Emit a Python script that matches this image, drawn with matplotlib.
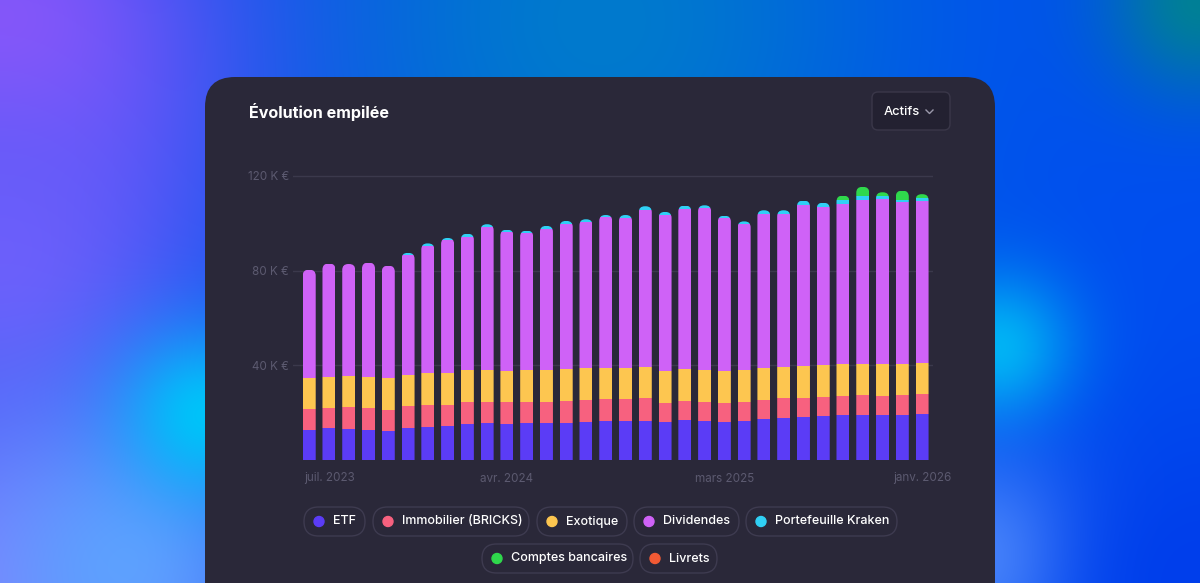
import numpy as np
import matplotlib.pyplot as plt
from matplotlib.patches import FancyBboxPatch, Circle

# DATA (K €, height of each stacked segment)
months = ["juin 2023", "juil. 2023", "août 2023", "sept. 2023", "oct. 2023", "nov. 2023",
          "déc. 2023", "janv. 2024", "févr. 2024", "mars 2024", "avr. 2024", "mai 2024",
          "juin 2024", "juil. 2024", "août 2024", "sept. 2024", "oct. 2024", "nov. 2024",
          "déc. 2024", "janv. 2025", "févr. 2025", "mars 2025", "avr. 2025", "mai 2025",
          "juin 2025", "juil. 2025", "août 2025", "sept. 2025", "oct. 2025", "nov. 2025",
          "déc. 2025", "janv. 2026"]
shown_months = ["juil. 2023", "avr. 2024", "mars 2025", "janv. 2026"]

etf = [12.8, 13.4, 13.1, 12.5, 12.3, 13.4, 14.1, 14.4, 15.4, 15.6, 15.2, 15.6, 15.6, 15.8, 16.2, 16.6,
       16.3, 16.6, 16.1, 16.8, 16.3, 16.2, 16.3, 17.3, 17.7, 18.2, 18.5, 18.9, 19.2, 19.0, 19.2, 19.6]
immobilier = [8.7, 8.7, 9.3, 9.3, 9.0, 9.3, 9.1, 9.0, 9.2, 9.0, 9.2, 9.0, 9.0, 9.3, 9.3, 9.2,
              9.5, 9.5, 8.1, 8.3, 8.3, 8.0, 8.3, 8.2, 8.4, 8.0, 8.1, 8.1, 8.1, 8.2, 8.1, 8.3]
exotique = [13.1, 13.1, 13.2, 13.1, 13.2, 13.2, 13.4, 13.4, 13.3, 13.4, 13.2, 13.4, 13.4, 13.2, 13.2, 13.2,
            13.1, 13.2, 13.4, 13.2, 13.3, 13.4, 13.4, 13.2, 13.2, 13.4, 13.4, 13.4, 13.4, 13.2, 13.1, 13.2]
dividendes = [45.8, 47.8, 47.2, 48.5, 47.6, 50.9, 54.0, 56.2, 56.5, 60.3, 58.6, 57.8, 59.7, 61.4, 61.7, 63.5,
              63.4, 66.2, 65.8, 67.8, 68.4, 64.5, 61.7, 65.4, 64.8, 68.1, 66.9, 67.9, 69.3, 69.9, 68.5, 68.5]
kraken = [0, 0, 0, 0, 0, 0.7, 0.9, 0.8, 1.2, 1.3, 1.1, 1.1, 1.2, 1.3, 1.3, 1.0,
          1.2, 1.7, 1.4, 1.4, 1.3, 1.1, 1.1, 1.4, 1.4, 1.9, 1.8, 1.4, 1.4, 1.1, 1.1, 1.0]
comptes = [0, 0, 0, 0, 0, 0, 0, 0, 0, 0, 0, 0, 0, 0, 0, 0,
           0, 0, 0, 0, 0, 0, 0, 0, 0, 0, 0, 2.0, 4.0, 1.7, 3.8, 1.7]
livrets = [0] * 32

y_ticks = [40, 80, 120]

series = [
    ("ETF", etf, "#5b3cf6"),
    ("Immobilier (BRICKS)", immobilier, "#f7617f"),
    ("Exotique", exotique, "#fdc650"),
    ("Dividendes", dividendes, "#cf62f7"),
    ("Portefeuille Kraken", kraken, "#30d0f5"),
    ("Comptes bancaires", comptes, "#2fd84c"),
    ("Livrets", livrets, "#f25a34"),
]

CARD = "#2a2839"
MUTED = "#5c5a70"
W, H = 1200, 583

plt.rcParams['font.family'] = ['Inter', 'DejaVu Sans']

fig = plt.figure(figsize=(12, 5.83), dpi=100)

# background layer in pixel coords
bg = fig.add_axes([0, 0, 1, 1])
bg.set_xlim(0, W)
bg.set_ylim(H, 0)
bg.axis("off")

yy, xx = np.mgrid[0:H, 0:W]
img = np.ones((H, W, 3)) * np.array([0, 78, 240]) / 255
blobs = [
    ((600, 20), 300, (0, 122, 205)),
    ((0, 40), 230, (140, 85, 250)),
    ((0, 240), 180, (105, 92, 250)),
    ((0, 600), 230, (130, 125, 255)),
    ((120, 570), 140, (95, 160, 255)),
    ((205, 415), 85, (0, 195, 250)),
    ((1200, 0), 95, (0, 128, 150)),
    ((1000, 350), 75, (0, 185, 245)),
    ((1000, 560), 100, (90, 150, 255)),
    ((1200, 583), 180, (0, 62, 235)),
]
for (cx, cy), r, col in blobs:
    wgt = np.exp(-((xx - cx) ** 2 + (yy - cy) ** 2) / r ** 2)[..., None]
    img = img * (1 - wgt) + np.array(col) / 255 * wgt
bg.imshow(img, extent=(0, W, H, 0), aspect="auto", zorder=0)

card = FancyBboxPatch((205, 77), 790, 600, boxstyle="round,pad=0,rounding_size=30",
                      fc=CARD, ec="none", zorder=1)
bg.add_patch(card)

bg.text(249, 112, "Évolution empilée", color="white", fontsize=11.6, fontweight="bold",
        va="center", ha="left", zorder=2)

# dropdown
drop = FancyBboxPatch((872, 92), 78, 38, boxstyle="round,pad=0,rounding_size=6",
                      fc="#232131", ec="#3a3749", lw=1, zorder=2)
bg.add_patch(drop)
bg.text(884, 112, "Actifs", color="white", fontsize=9.3, fontweight="medium",
        va="center", ha="left", zorder=3)
bg.plot([926, 929.5, 933], [110, 113.5, 110], color="#9a98aa", lw=1, zorder=3)

# legend pills
pills = [(304, 521.5, 61), (373, 521.5, 156), (537, 521.5, 90), (634, 521.5, 105), (746, 521.5, 151),
         (482, 558.5, 151), (640, 558.5, 77)]
for (name, _, color), (px, py, pw) in zip(series, pills):
    pill = FancyBboxPatch((px, py - 14.5), pw, 29, boxstyle="round,pad=0,rounding_size=14.5",
                          fc=CARD, ec="#3e3b50", lw=1, zorder=2)
    bg.add_patch(pill)
    bg.add_patch(Circle((px + 15, py), 5, color=color, zorder=3))
    bg.text(px + 29, py, name, color="white", fontsize=9.0, fontweight="medium",
            va="center", ha="left", zorder=3)

# chart
ax_l, ax_r, ax_b, ax_t = 293, 933, 460, 160
ax = fig.add_axes([ax_l / W, (H - ax_b) / H, (ax_r - ax_l) / W, (ax_b - ax_t) / H])
ax.patch.set_alpha(0)
x = np.arange(len(months))
px_per_k = 2.367
slot = 19.77
ax.set_ylim(0, (ax_b - ax_t) / px_per_k)
ax.set_xlim(-(309.2 - ax_l) / slot, (ax_r - 309.2) / slot)

bar_w = 13 / slot
radius = 6 / slot
aspect = (1 / px_per_k) / (1 / slot)

totals = np.sum([s[1] for s in series], axis=0)
clips = []
for i in x:
    clip = FancyBboxPatch((i - bar_w / 2, -6), bar_w, totals[i] + 6,
                          boxstyle=f"round,pad=0,rounding_size={radius}",
                          mutation_aspect=aspect, transform=ax.transData)
    clips.append(clip)

bottom = np.zeros(len(months))
for name, vals, color in series:
    vals = np.array(vals, dtype=float)
    bars = ax.bar(x, vals, bar_w, bottom=bottom, color=color, linewidth=0, zorder=3)
    for b, c in zip(bars, clips):
        b.set_clip_path(c)
    bottom += vals

ax.set_yticks(y_ticks)
ax.set_yticklabels([f"{v} K €" for v in y_ticks])
ax.grid(axis="y", color="#3b394c", lw=1, zorder=0)
ax.set_xticks([months.index(m) for m in shown_months])
ax.set_xticklabels(shown_months)
ax.tick_params(length=0, colors=MUTED, labelsize=8.4)
ax.tick_params(axis="y", pad=3)
ax.tick_params(axis="x", pad=9)
for s in ax.spines.values():
    s.set_visible(False)

fig.savefig("out.png", dpi=100)
